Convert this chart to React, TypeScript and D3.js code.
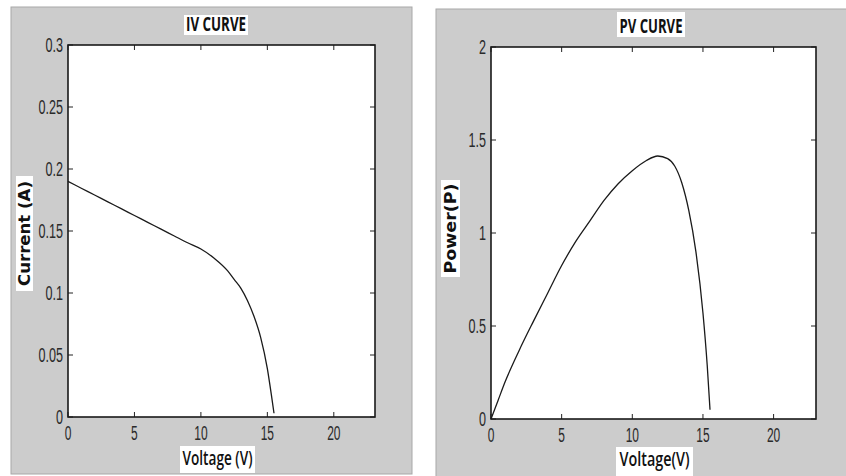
import React from 'react';
import * as d3 from 'd3';

// IV curve
const ivVoltage = [0, 1, 2, 3, 4, 5, 6, 7, 8, 9, 10, 11, 12, 12.5, 13, 13.5, 14, 14.5, 15, 15.3, 15.5];
const ivCurrent = [0.19, 0.1845, 0.179, 0.1735, 0.168, 0.1625, 0.157, 0.1515, 0.146, 0.1405, 0.1355, 0.128, 0.118, 0.111, 0.104, 0.094, 0.081, 0.064, 0.039, 0.018, 0.003];

// PV curve
const pvVoltage = [0, 0.5, 1, 2, 3, 4, 5, 6, 7, 8, 9, 10, 11, 11.8, 12.5, 13, 13.5, 14, 14.5, 15, 15.3, 15.5];
const pvPower = [0, 0.1, 0.2, 0.37, 0.525, 0.675, 0.825, 0.955, 1.065, 1.175, 1.265, 1.335, 1.39, 1.414, 1.4, 1.36, 1.27, 1.12, 0.9, 0.57, 0.29, 0.05];

const xTicks = [0, 5, 10, 15, 20];
const ivYTicks = [0, 0.05, 0.1, 0.15, 0.2, 0.25, 0.3];
const pvYTicks = [0, 0.5, 1, 1.5, 2];

const tickFont = '"Liberation Sans", Arial, sans-serif';
const titleFont = '"Open Sans", "DejaVu Sans Condensed", sans-serif';

type PanelProps = {
  box: { x: number; y: number; w: number; h: number };
  plot: { left: number; right: number; top: number; bottom: number };
  xMax: number;
  yMax: number;
  yTicks: number[];
  xs: number[];
  ys: number[];
  title: string;
  titleBox: [number, number, number, number];
  titleLen: number;
  xLabel: string;
  xLabelBox: [number, number, number, number];
  xLabelLen: number;
  yLabel: string;
  yLabelBox: [number, number, number, number];
  yLabelLen: number;
  yLabelX: number;
};

const Panel = (p: PanelProps) => {
  const x = d3.scaleLinear().domain([0, p.xMax]).range([p.plot.left, p.plot.right]);
  const y = d3.scaleLinear().domain([0, p.yMax]).range([p.plot.bottom, p.plot.top]);
  const line = d3.line<number>()
    .x((_, i) => x(p.xs[i]))
    .y(d => y(d))
    .curve(d3.curveMonotoneX);
  const fmt = (v: number) => String(+v.toFixed(2));
  const tl = 5;
  const [tx, ty, tw, th] = p.titleBox;
  const [lx, ly, lw, lh] = p.xLabelBox;
  const [yx, yy, yw, yh] = p.yLabelBox;

  return (
    <g>
      <rect x={p.box.x} y={p.box.y} width={p.box.w} height={p.box.h} fill="#cccccc" stroke="#a8a8a8" strokeWidth={1} />
      <rect x={p.plot.left} y={p.plot.top} width={p.plot.right - p.plot.left} height={p.plot.bottom - p.plot.top} fill="#fff" />

      {/* ticks on all four sides, pointing in */}
      {xTicks.map(t => (
        <g key={'x' + t}>
          <line x1={x(t)} x2={x(t)} y1={p.plot.bottom} y2={p.plot.bottom - tl} stroke="#222" />
          <line x1={x(t)} x2={x(t)} y1={p.plot.top} y2={p.plot.top + tl} stroke="#222" />
          <text transform={`translate(${x(t)},${p.plot.bottom + 23}) scale(0.6,1)`} textAnchor="middle"
            fontFamily={tickFont} fontSize={20} fill="#2a2a2a">{t}</text>
        </g>
      ))}
      {p.yTicks.map(t => (
        <g key={'y' + t}>
          <line x1={p.plot.left} x2={p.plot.left + tl} y1={y(t)} y2={y(t)} stroke="#222" />
          <line x1={p.plot.right} x2={p.plot.right - tl} y1={y(t)} y2={y(t)} stroke="#222" />
          <text transform={`translate(${p.plot.left - 5},${y(t) + 7}) scale(0.6,1)`} textAnchor="end"
            fontFamily={tickFont} fontSize={21} fill="#2a2a2a">{fmt(t)}</text>
        </g>
      ))}

      <rect x={p.plot.left} y={p.plot.top} width={p.plot.right - p.plot.left} height={p.plot.bottom - p.plot.top}
        fill="none" stroke="#1a1a1a" strokeWidth={1.6} />

      <path d={line(p.ys) || ''} fill="none" stroke="#1a1a1a" strokeWidth={1.3} />

      <rect x={tx} y={ty} width={tw} height={th} fill="#fff" />
      <text x={tx + tw / 2} y={ty + th - 4} textAnchor="middle" fontFamily={titleFont} fontWeight={700}
        fontSize={20} textLength={p.titleLen} lengthAdjust="spacingAndGlyphs" fill="#111">{p.title}</text>

      <rect x={lx} y={ly} width={lw} height={lh} fill="#fff" />
      <text x={lx + lw / 2} y={ly + 19} textAnchor="middle" fontFamily={titleFont} fontWeight={600}
        fontSize={19} textLength={p.xLabelLen} lengthAdjust="spacingAndGlyphs" fill="#111">{p.xLabel}</text>

      <rect x={yx} y={yy} width={yw} height={yh} fill="#fff" />
      <text transform={`translate(${p.yLabelX},${yy + yh / 2}) rotate(-90)`} textAnchor="middle"
        fontFamily='"DejaVu Sans", sans-serif' fontWeight={700} fontSize={15}
        textLength={p.yLabelLen} lengthAdjust="spacingAndGlyphs" fill="#111">{p.yLabel}</text>
    </g>
  );
};

export default function App() {
  return (
    <svg width={846} height={476} style={{ position: 'absolute', left: 0, top: 0, background: '#fff' }}>
      <Panel
        box={{ x: 11, y: 7, w: 401, h: 467 }}
        plot={{ left: 68, right: 375, top: 45, bottom: 417 }}
        xMax={23.1} yMax={0.3} yTicks={ivYTicks}
        xs={ivVoltage} ys={ivCurrent}
        title="IV CURVE" titleBox={[184, 15, 64, 20]} titleLen={60}
        xLabel="Voltage (V)" xLabelBox={[180, 446, 75, 27]} xLabelLen={70}
        yLabel="Current (A)" yLabelBox={[16, 176, 17, 115]} yLabelLen={105} yLabelX={30}
      />
      <Panel
        box={{ x: 436, y: 9, w: 412, h: 470 }}
        plot={{ left: 491, right: 816, top: 47, bottom: 419 }}
        xMax={23} yMax={2} yTicks={pvYTicks}
        xs={pvVoltage} ys={pvPower}
        title="PV CURVE" titleBox={[617, 12, 68, 25]} titleLen={63}
        xLabel="Voltage(V)" xLabelBox={[616, 447, 77, 29]} xLabelLen={70}
        yLabel="Power(P)" yLabelBox={[441, 180, 19, 97]} yLabelLen={90} yLabelX={456}
      />
    </svg>
  );
}
